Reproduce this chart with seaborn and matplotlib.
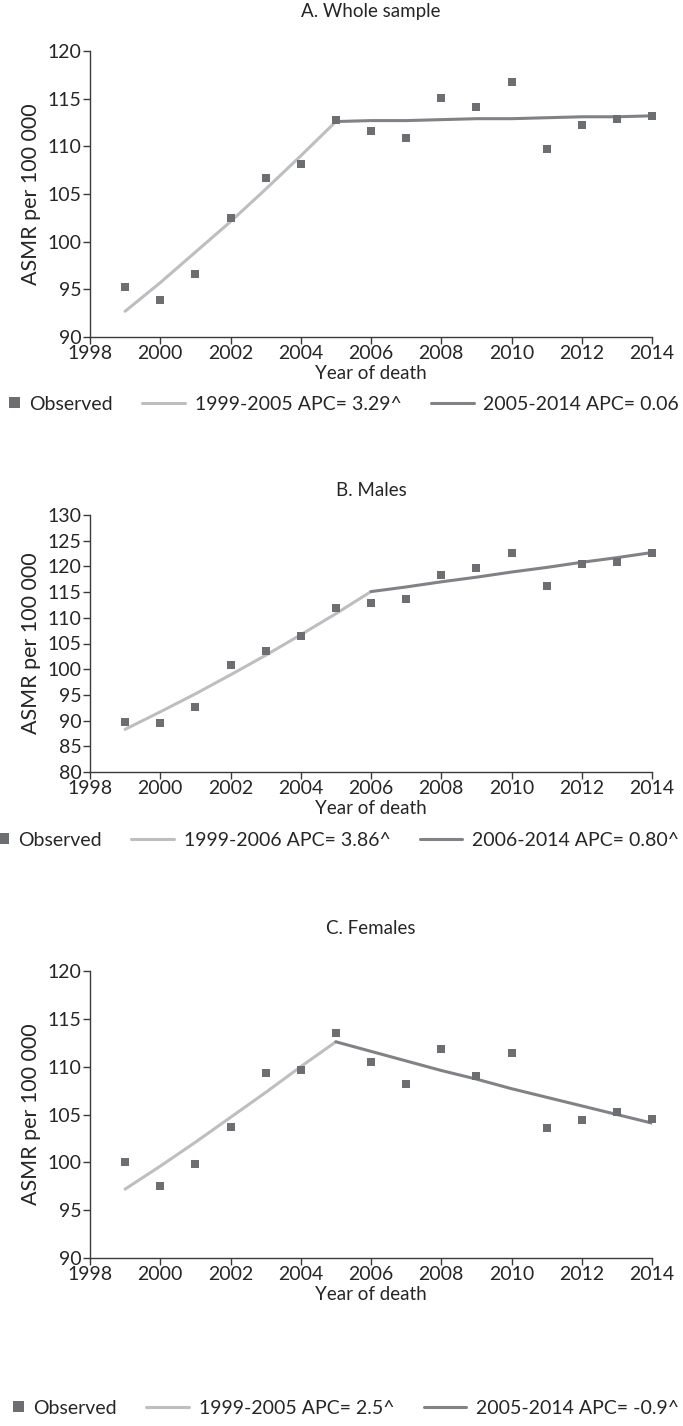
import numpy as np
import pandas as pd
import matplotlib
matplotlib.use("Agg")
import matplotlib.pyplot as plt
import seaborn as sns
from matplotlib.lines import Line2D
from matplotlib.patches import Rectangle
from matplotlib.legend_handler import HandlerBase

# ---- data ----
years = list(range(1999, 2015))

obs_whole = [95.2, 93.9, 96.6, 102.5, 106.7, 108.1, 112.8, 111.6, 110.9, 115.1, 114.1, 116.8, 109.7, 112.2, 112.9, 113.2]
obs_males = [89.8, 89.6, 92.7, 100.8, 103.5, 106.5, 111.9, 112.8, 113.7, 118.4, 119.6, 122.7, 116.1, 120.5, 120.8, 122.7]
obs_females = [100.0, 97.5, 99.8, 103.7, 109.3, 109.6, 113.5, 110.5, 108.2, 111.8, 109.0, 111.4, 103.6, 104.4, 105.3, 104.5]

# fitted joinpoint segments
seg1_years_a = list(range(1999, 2006))
seg1_whole = [92.7, 95.7, 98.9, 102.1, 105.5, 109.0, 112.6]
seg2_years_a = list(range(2005, 2015))
seg2_whole = [112.6, 112.7, 112.7, 112.8, 112.9, 112.9, 113.0, 113.1, 113.1, 113.2]

seg1_years_b = list(range(1999, 2007))
seg1_males = [88.3, 91.7, 95.2, 98.9, 102.7, 106.7, 110.8, 115.1]
seg2_years_b = list(range(2006, 2015))
seg2_males = [115.1, 116.0, 117.0, 117.9, 118.9, 119.8, 120.8, 121.7, 122.7]

seg1_years_c = list(range(1999, 2006))
seg1_females = [97.2, 99.6, 102.1, 104.7, 107.3, 110.0, 112.6]
seg2_years_c = list(range(2005, 2015))
seg2_females = [112.6, 111.6, 110.6, 109.6, 108.7, 107.7, 106.8, 105.9, 105.0, 104.1]

titles = ["A. Whole sample", "B. Males", "C. Females"]
labels1 = ["1999-2005 APC= 3.29^", "1999-2006 APC= 3.86^", "1999-2005 APC= 2.5^"]
labels2 = ["2005-2014 APC= 0.06", "2006-2014 APC= 0.80^", "2005-2014 APC= -0.9^"]
ylims = [(90, 120), (80, 130), (90, 120)]

OBS_COL = "#6d6e71"
SEG1_COL = "#bcbec0"
SEG2_COL = "#808285"
AX_COL = "#3a3a3a"

sns.set_style("white")
plt.rcParams["font.family"] = ["Lato", "DejaVu Sans"]
plt.rcParams["font.size"] = 13

W, H = 683, 1426
fig = plt.figure(figsize=(W / 100, H / 100), dpi=100)


def px_axes(left, top, right, bottom):
    return fig.add_axes([left / W, 1 - bottom / H, (right - left) / W, (bottom - top) / H])


class SquareHandler(HandlerBase):
    # small square pushed to the right end of the handle box, next to the text
    def create_artists(self, legend, orig_handle, xdescent, ydescent, width, height, fontsize, trans):
        size = 7.5
        x0 = -xdescent + width - size
        y0 = -ydescent + (height - size) / 2
        sq = Rectangle((x0, y0), size, size, facecolor=OBS_COL, edgecolor="none", transform=trans)
        return [sq]


# pixel layout: (axes top, axes bottom, title y, legend y)
layout = [
    (51, 337, 12, 404),
    (515, 772, 491, 840),
    (971, 1258, 928, 1408),
]
AX_LEFT, AX_RIGHT = 90, 652

panels = [
    (obs_whole, seg1_years_a, seg1_whole, seg2_years_a, seg2_whole),
    (obs_males, seg1_years_b, seg1_males, seg2_years_b, seg2_males),
    (obs_females, seg1_years_c, seg1_females, seg2_years_c, seg2_females),
]

for i, (obs, s1x, s1y, s2x, s2y) in enumerate(panels):
    top, bottom, ty, ly = layout[i]
    ax = px_axes(AX_LEFT, top, AX_RIGHT, bottom)

    df_obs = pd.DataFrame({"year": years, "asmr": obs})
    df1 = pd.DataFrame({"year": s1x, "asmr": s1y})
    df2 = pd.DataFrame({"year": s2x, "asmr": s2y})

    sns.lineplot(data=df1, x="year", y="asmr", ax=ax, color=SEG1_COL, lw=2.2, zorder=2)
    sns.lineplot(data=df2, x="year", y="asmr", ax=ax, color=SEG2_COL, lw=2.2, zorder=2)
    sns.scatterplot(data=df_obs, x="year", y="asmr", ax=ax, color=OBS_COL, marker="s",
                    s=26, linewidth=0, zorder=3, clip_on=False)

    ax.set_xlim(1998, 2014)
    ax.set_ylim(*ylims[i])
    ax.set_xticks(range(1998, 2015, 2))
    ax.set_yticks(range(ylims[i][0], ylims[i][1] + 1, 5))
    ax.set_xlabel("Year of death", fontsize=13.5, labelpad=2)
    ax.set_ylabel("ASMR per 100 000", fontsize=15.5, labelpad=5)

    for side in ["top", "right"]:
        ax.spines[side].set_visible(False)
    for side in ["left", "bottom"]:
        ax.spines[side].set_color(AX_COL)
        ax.spines[side].set_linewidth(1.0)
    ax.tick_params(axis="both", direction="out", length=5, width=1.0, color=AX_COL,
                   labelsize=14, pad=1, left=True, bottom=True)

    fig.text(0.5 * (AX_LEFT + AX_RIGHT) / W, 1 - ty / H, titles[i], ha="center", va="center",
             fontsize=13.5)

    handles = [
        Rectangle((0, 0), 1, 1, facecolor=OBS_COL),
        Line2D([], [], color=SEG1_COL, lw=2.2),
        Line2D([], [], color=SEG2_COL, lw=2.2),
    ]
    fig.legend(handles, ["Observed", labels1[i], labels2[i]], loc="center right",
               bbox_to_anchor=(679 / W, 1 - ly / H), ncol=3, frameon=False,
               fontsize=14, handlelength=2.2, handletextpad=0.5, columnspacing=1.5,
               borderpad=0, borderaxespad=0,
               handler_map={Rectangle: SquareHandler()})

fig.savefig("out.png", dpi=100)
